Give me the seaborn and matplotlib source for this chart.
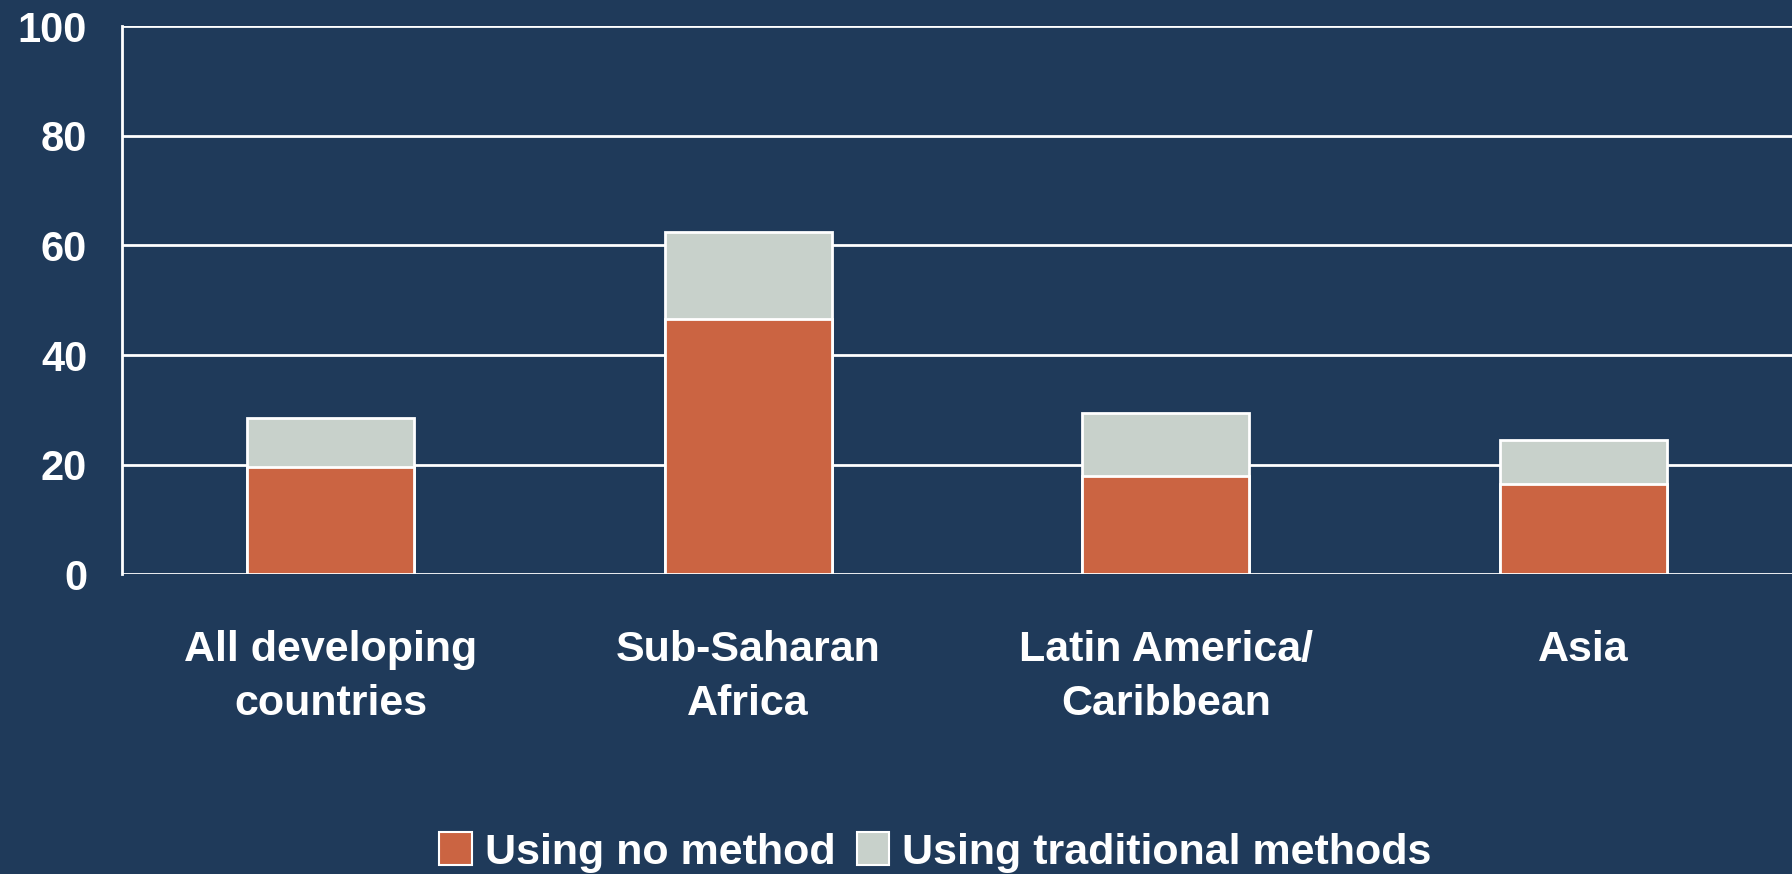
import pandas as pd
import numpy as np
import matplotlib.pyplot as plt
import seaborn as sns
from matplotlib.patches import Patch

regions = ["All developing\ncountries", "Sub-Saharan\nAfrica", "Latin America/\nCaribbean", "Asia"]
no_method = [19.5, 46.5, 18.0, 16.5]
traditional = [9.0, 16.0, 11.5, 8.0]
y_ticks = [0, 20, 40, 60, 80, 100]

bg = "#1F3A5A"
orange = "#CB6442"
grey = "#C8D1CB"

sns.set_style("white")
plt.rcParams["font.family"] = ["Liberation Sans", "DejaVu Sans"]
plt.rcParams["font.weight"] = "bold"

df = pd.DataFrame({
    "region": regions,
    "no_method": no_method,
    "total": np.array(no_method) + np.array(traditional),
})

fig = plt.figure(figsize=(17.92, 8.74), dpi=100, facecolor=bg)
ax = fig.add_axes([0.068, 0.343, 0.932, 0.627])
ax.set_facecolor(bg)

for y in y_ticks:
    ax.axhline(y, color="white", lw=2, zorder=0)

# total first, then the bottom part on top of it
sns.barplot(data=df, x="region", y="total", color=grey, width=0.4,
            edgecolor="white", linewidth=2, saturation=1, ax=ax, zorder=2)
sns.barplot(data=df, x="region", y="no_method", color=orange, width=0.4,
            edgecolor="white", linewidth=2, saturation=1, ax=ax, zorder=3)

ax.set_xlim(-0.5, 3.5)
ax.set_ylim(0, 100)
ax.set_yticks(y_ticks)
ax.set_xlabel("")
ax.set_ylabel("")
ax.tick_params(axis="y", colors="white", labelsize=30, length=0, pad=25)
ax.tick_params(axis="x", colors="white", labelsize=31, length=0, pad=40)
for lab in ax.get_yticklabels():
    lab.set_fontweight("bold")
    lab.set_color("white")
for lab in ax.get_xticklabels():
    lab.set_fontweight("bold")
    lab.set_color("white")
    lab.set_linespacing(1.45)

for s in ["top", "right", "bottom"]:
    ax.spines[s].set_visible(False)
ax.spines["left"].set_color("white")
ax.spines["left"].set_linewidth(2)

handles = [
    Patch(facecolor=orange, edgecolor="white", linewidth=1.5, label="Using no method"),
    Patch(facecolor=grey, edgecolor="white", linewidth=1.5, label="Using traditional methods"),
]
leg = fig.legend(handles=handles, loc="lower center", bbox_to_anchor=(0.522, -0.043), ncol=2,
                 frameon=False, fontsize=31, handlelength=0.75, handleheight=0.8,
                 handletextpad=0.3, columnspacing=0.5, labelcolor="white")
for t in leg.get_texts():
    t.set_fontweight("bold")

fig.savefig("out.png", dpi=100, facecolor=bg)
